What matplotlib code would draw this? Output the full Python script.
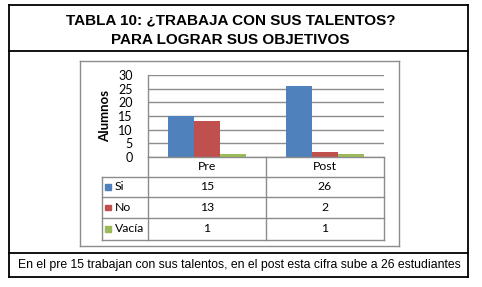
import matplotlib
matplotlib.use("Agg")
import matplotlib.pyplot as plt
from matplotlib.patches import Rectangle
from matplotlib.lines import Line2D

categories = ["Pre", "Post"]
series_names = ["Si", "No", "Vacía"]
si_values = [15, 26]
no_values = [13, 2]
vacia_values = [1, 1]
yticks = [0, 5, 10, 15, 20, 25, 30]
colors = ["#4F81BD", "#C0504D", "#9BBB59"]
title_lines = ["TABLA 10: ¿TRABAJA CON SUS TALENTOS?", "PARA LOGRAR SUS OBJETIVOS"]
caption_text = "En el pre 15 trabajan con sus talentos, en el post esta cifra sube a 26 estudiantes"

W, H = 482, 287
fig = plt.figure(figsize=(W / 100, H / 100), dpi=100)
fig.patch.set_facecolor("white")

def fx(x):
    return x / W

def fy(y):
    return 1 - y / H

def line(x0, y0, x1, y1, color="black", lw=1.0):
    fig.add_artist(Line2D([fx(x0), fx(x1)], [fy(y0), fy(y1)], color=color, lw=lw,
                          transform=fig.transFigure))

# Outer box
black_lw = 1.3
line(9, 5, 468, 5, lw=black_lw)
line(9, 277, 468, 277, lw=black_lw)
line(9, 5, 9, 277, lw=black_lw)
line(468, 5, 468, 277, lw=black_lw)
line(9, 51, 468, 51, lw=black_lw)
line(9, 253, 468, 253, lw=black_lw)

for k, (t, yb) in enumerate(zip(title_lines, [24.5, 44])):
    fig.text(fx(231 if k == 0 else 230.5), fy(yb), t, ha="center", va="baseline",
             fontsize=11.0, fontweight="bold", family="Liberation Sans")
fig.text(fx(239), fy(265), caption_text, ha="center", va="center",
         fontsize=8.8, family="Liberation Sans")

# Inner chart box
gray = "#8C8C8C"
line(80, 61, 399, 61, color=gray, lw=1.0)
line(80, 246, 399, 246, color=gray, lw=1.0)
line(80, 61, 80, 246, color=gray, lw=1.0)
line(399, 61, 399, 246, color=gray, lw=1.0)

# Plot area
px0, px1, py0, py1 = 148, 384, 75, 157
ax = fig.add_axes([fx(px0), fy(py1), (px1 - px0) / W, (py1 - py0) / H])
ax.set_xlim(0, len(categories))
ax.set_ylim(0, 30)
ax.set_yticks(yticks)
ax.set_yticklabels([str(t) for t in yticks], family="Lato", fontsize=9)
ax.tick_params(axis="y", length=0, pad=11)
ax.set_xticks([])
for s in ["top", "right", "bottom"]:
    ax.spines[s].set_visible(False)
ax.spines["left"].set_color(gray)
ax.spines["left"].set_linewidth(1.0)
ax.yaxis.grid(True, color="#8C8C8C", lw=1.0)
ax.set_axisbelow(True)
fig.text(fx(105), fy(116), "Alumnos", rotation=90, ha="center", va="center",
         family="Lato", fontweight="bold", fontsize=9.5)

bw = 0.218
data = [si_values, no_values, vacia_values]
for i, vals in enumerate(data):
    xs = [c + 0.5 + (i - 1) * bw for c in range(len(categories))]
    ax.bar(xs, vals, width=bw, color=colors[i], zorder=3)

# Data table
tx0, tcol1, tcol2, tcol3 = 102, 148, 266, 384
rows_y = [157, 177, 197, 218, 240]
tlw = 1.0
line(tcol1, 157, tcol3, 157, color=gray, lw=tlw)
for y in rows_y[1:]:
    line(tx0, y, tcol3, y, color=gray, lw=tlw)
line(tx0, rows_y[1], tx0, rows_y[-1], color=gray, lw=tlw)
for x in [tcol1, tcol2, tcol3]:
    line(x, 157, x, rows_y[-1], color=gray, lw=tlw)

col_centers = [(tcol1 + tcol2) / 2, (tcol2 + tcol3) / 2]
for j, c in enumerate(categories):
    fig.text(fx(col_centers[j]), fy((rows_y[0] + rows_y[1]) / 2), c, ha="center", va="center",
             family="Lato", fontsize=8.8)
for i, name in enumerate(series_names):
    yc = (rows_y[i + 1] + rows_y[i + 2]) / 2
    fig.add_artist(Rectangle((fx(105), fy(yc + 2.5)), 5.5 / W, 5.5 / H, color=colors[i],
                             transform=fig.transFigure))
    fig.text(fx(115), fy(yc), name, ha="left", va="center", family="Lato", fontsize=8.8)
    for j in range(len(categories)):
        fig.text(fx(col_centers[j]), fy(yc), str(data[i][j]), ha="center", va="center",
                 family="Lato", fontsize=8.8)

fig.savefig("out.png", dpi=100)
